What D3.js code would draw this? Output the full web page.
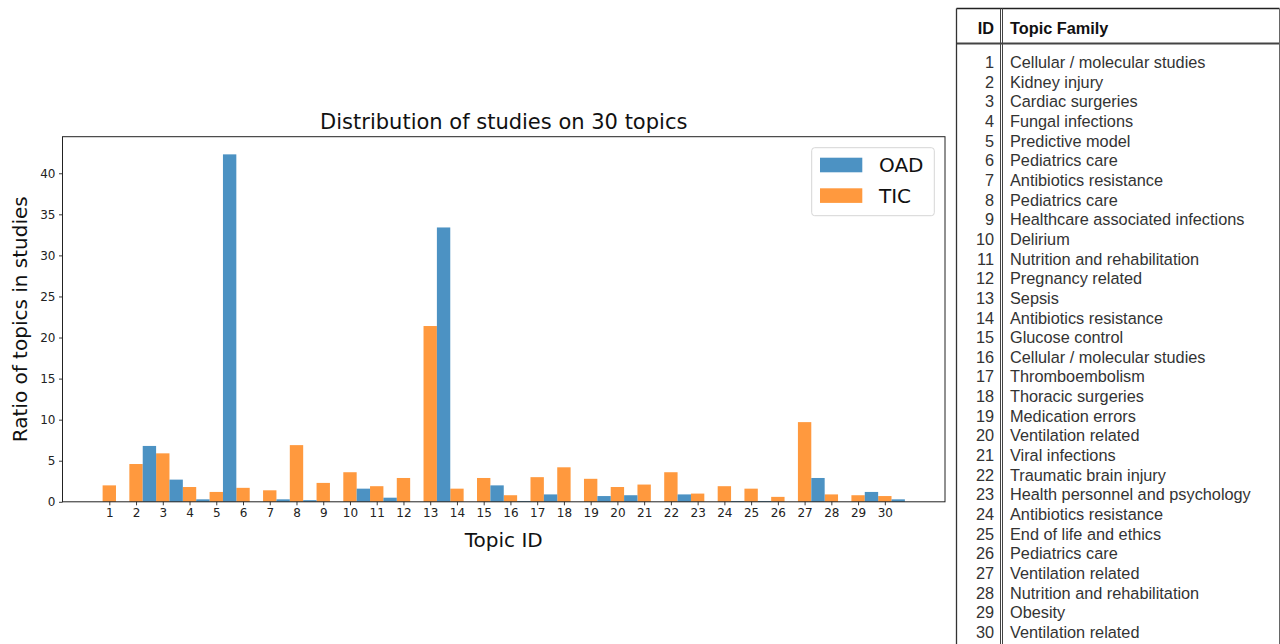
<!DOCTYPE html>
<html>
<head>
<meta charset="utf-8">
<script src="https://cdn.jsdelivr.net/npm/d3@7/dist/d3.min.js"></script>
<style>
  html, body { margin: 0; padding: 0; background: #fff; }
  svg { display: block; }
</style>
</head>
<body>
<svg id="chart" width="1280" height="644"></svg>
<script>
// ---------------- data ----------------
const topics = d3.range(1, 31);
const tickLabels = topics.map(String);
const yTicks = [0, 5, 10, 15, 20, 25, 30, 35, 40];
const seriesNames = ["OAD", "TIC"];
const oadValues = [0, 6.8, 2.7, 0.3, 42.3, 0, 0.3, 0.2, 0, 1.6,
                   0.5, 0, 33.4, 0, 2.0, 0.1, 0.9, 0, 0.7, 0.8,
                   0, 0.9, 0, 0.1, 0.1, 0, 2.9, 0, 1.2, 0.3];
const ticValues = [2.0, 4.6, 5.9, 1.8, 1.2, 1.7, 1.4, 6.9, 2.3, 3.6,
                   1.9, 2.9, 21.4, 1.6, 2.9, 0.8, 3.0, 4.2, 2.8, 1.8,
                   2.1, 3.6, 1.0, 1.9, 1.6, 0.6, 9.7, 0.9, 0.8, 0.7];
const topicFamilies = [
  "Cellular / molecular studies", "Kidney injury", "Cardiac surgeries",
  "Fungal infections", "Predictive model", "Pediatrics care",
  "Antibiotics resistance", "Pediatrics care", "Healthcare associated infections",
  "Delirium", "Nutrition and rehabilitation", "Pregnancy related", "Sepsis",
  "Antibiotics resistance", "Glucose control", "Cellular / molecular studies",
  "Thromboembolism", "Thoracic surgeries", "Medication errors",
  "Ventilation related", "Viral infections", "Traumatic brain injury",
  "Health personnel and psychology", "Antibiotics resistance",
  "End of life and ethics", "Pediatrics care", "Ventilation related",
  "Nutrition and rehabilitation", "Obesity", "Ventilation related"
];
const titleText = "Distribution of studies on 30 topics";
const xLabel = "Topic ID";
const yLabel = "Ratio of topics in studies";

// ---------------- layout ----------------
const svg = d3.select("#chart");
const plot = { left: 62.5, right: 945, top: 136.7, bottom: 501.8 };
const colors = { OAD: "#4c92c3", TIC: "#ff993e" };
const font = "'DejaVu Sans', sans-serif";

const x = d3.scaleLinear().domain([-0.75, 32.25]).range([plot.left, plot.right]);
const y = d3.scaleLinear().domain([0, 44.45]).range([plot.bottom, plot.top]);
const barW = 0.5;

// bars: TIC centred on topic, OAD shifted half a unit right
const g = svg.append("g");
g.selectAll("rect.tic").data(topics).join("rect")
  .attr("class", "tic")
  .attr("x", d => x(d - barW / 2))
  .attr("width", d => x(d + barW / 2) - x(d - barW / 2))
  .attr("y", (d, i) => y(ticValues[i]))
  .attr("height", (d, i) => y(0) - y(ticValues[i]))
  .attr("fill", colors.TIC);
g.selectAll("rect.oad").data(topics).join("rect")
  .attr("class", "oad")
  .attr("x", d => x(d + barW / 2))
  .attr("width", d => x(d + barW * 1.5) - x(d + barW / 2))
  .attr("y", (d, i) => y(oadValues[i]))
  .attr("height", (d, i) => y(0) - y(oadValues[i]))
  .attr("fill", colors.OAD);

// axes
const xAxis = d3.axisBottom(x).tickValues(topics).tickFormat((d, i) => tickLabels[i]).tickSize(3.5).tickPadding(3.5);
const xg = svg.append("g").attr("transform", `translate(0,${plot.bottom})`).call(xAxis);
const yAxis = d3.axisLeft(y).tickValues(yTicks).tickSize(3.5).tickPadding(3.5);
const yg = svg.append("g").attr("transform", `translate(${plot.left},0)`).call(yAxis);
[xg, yg].forEach(a => {
  a.select(".domain").remove();
  a.selectAll(".tick line").attr("stroke", "#222").attr("stroke-width", 0.9);
  a.selectAll(".tick text").attr("fill", "#222").style("font-family", font).style("font-size", "12px");
});

// frame
svg.append("rect")
  .attr("x", plot.left).attr("y", plot.top)
  .attr("width", plot.right - plot.left).attr("height", plot.bottom - plot.top)
  .attr("fill", "none").attr("stroke", "#222").attr("stroke-width", 1);

// title & labels
svg.append("text").attr("x", (plot.left + plot.right) / 2).attr("y", 129)
  .attr("text-anchor", "middle").style("font-family", font).style("font-size", "21px")
  .attr("fill", "#111").text(titleText);
svg.append("text").attr("x", (plot.left + plot.right) / 2).attr("y", 547)
  .attr("text-anchor", "middle").style("font-family", font).style("font-size", "20px")
  .attr("fill", "#111").text(xLabel);
svg.append("text")
  .attr("transform", `translate(27,${(plot.top + plot.bottom) / 2}) rotate(-90)`)
  .attr("text-anchor", "middle").style("font-family", font).style("font-size", "20px")
  .attr("fill", "#111").text(yLabel);

// legend
const lg = svg.append("g");
lg.append("rect").attr("x", 811.7).attr("y", 147.7).attr("width", 122.6).attr("height", 68)
  .attr("rx", 3).attr("fill", "#fff").attr("stroke", "#d6d6d6").attr("stroke-width", 1);
seriesNames.forEach((s, i) => {
  const yy = 157.7 + i * 30.6;
  lg.append("rect").attr("x", 820).attr("y", yy).attr("width", 42.3).attr("height", 14.6)
    .attr("fill", colors[s]);
  lg.append("text").attr("x", 879).attr("y", yy + 7.3).attr("dy", "0.36em")
    .style("font-family", font).style("font-size", "20px").attr("fill", "#111").text(s);
});

// ---------------- table ----------------
const tfont = "'Liberation Sans', Arial, sans-serif";
const tsize = "16.3px";
const t = svg.append("g");
const tl = { left: 956.5, right: 1279.5, top: 8.5, head: 43.5, div: 1001.5 };
t.append("line").attr("x1", tl.left).attr("x2", tl.right).attr("y1", tl.top).attr("y2", tl.top)
  .attr("stroke", "#222").attr("stroke-width", 1.3);
t.append("line").attr("x1", tl.left).attr("x2", tl.right).attr("y1", tl.head).attr("y2", tl.head)
  .attr("stroke", "#444").attr("stroke-width", 1.8);
t.append("line").attr("x1", tl.left).attr("x2", tl.left).attr("y1", tl.top).attr("y2", 644)
  .attr("stroke", "#333").attr("stroke-width", 1.3);
t.append("line").attr("x1", tl.right).attr("x2", tl.right).attr("y1", tl.top).attr("y2", 644)
  .attr("stroke", "#666").attr("stroke-width", 1);
t.append("line").attr("x1", tl.div - 1).attr("x2", tl.div - 1).attr("y1", tl.top).attr("y2", 644)
  .attr("stroke", "#444").attr("stroke-width", 1);
t.append("line").attr("x1", tl.div + 1).attr("x2", tl.div + 1).attr("y1", tl.top).attr("y2", 644)
  .attr("stroke", "#444").attr("stroke-width", 1);

t.append("text").attr("x", 994).attr("y", 27.7).attr("dy", "0.36em").attr("text-anchor", "end")
  .style("font-family", tfont).style("font-size", tsize).style("font-weight", "bold")
  .attr("fill", "#111").text("ID");
t.append("text").attr("x", 1010).attr("y", 27.7).attr("dy", "0.36em")
  .style("font-family", tfont).style("font-size", tsize).style("font-weight", "bold")
  .attr("fill", "#111").text("Topic Family");

const rowY = d3.scaleLinear().domain([1, 30]).range([62.3, 632]);
t.selectAll("text.id").data(topics).join("text").attr("class", "id")
  .attr("x", 994).attr("y", d => rowY(d)).attr("dy", "0.36em").attr("text-anchor", "end")
  .style("font-family", tfont).style("font-size", tsize).attr("fill", "#333")
  .text((d, i) => tickLabels[i]);
t.selectAll("text.fam").data(topics).join("text").attr("class", "fam")
  .attr("x", 1010).attr("y", d => rowY(d)).attr("dy", "0.36em")
  .style("font-family", tfont).style("font-size", tsize).attr("fill", "#333")
  .text((d, i) => topicFamilies[i]);
</script>
</body>
</html>
